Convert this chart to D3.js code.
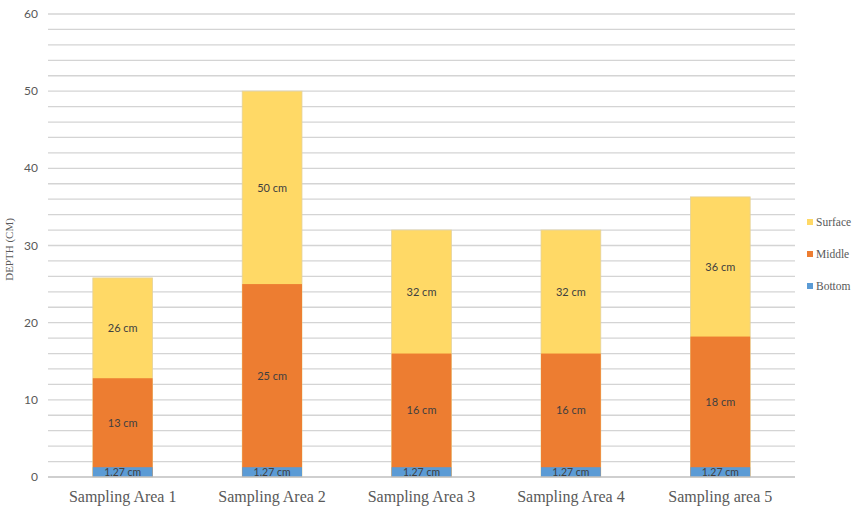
<!DOCTYPE html>
<html lang="en">
<head>
  <meta charset="UTF-8">
  <title>Depth</title>
  <script src="https://d3js.org/d3.v7.min.js"></script>
  <style>
    body { margin: 0; background: #fff; }
  </style>
</head>
<body>
<svg></svg>
<script>
  // data
  const areas = ['Sampling Area 1', 'Sampling Area 2', 'Sampling Area 3', 'Sampling Area 4', 'Sampling area 5']
  const surface = [25.8, 50, 32, 32, 36.3]
  const middle = [12.8, 25, 16, 16, 18.2]
  const bottom = [1.27, 1.27, 1.27, 1.27, 1.27]
  const surfaceLabels = ['26 cm', '50 cm', '32 cm', '32 cm', '36 cm']
  const middleLabels = ['13 cm', '25 cm', '16 cm', '16 cm', '18 cm']
  const bottomLabels = ['1.27 cm', '1.27 cm', '1.27 cm', '1.27 cm', '1.27 cm']
  const yTicks = [0, 10, 20, 30, 40, 50, 60]

  const width = 858, height = 509
  const plotLeft = 48, plotRight = 795, plotTop = 14, plotBottom = 477

  const svg = d3.select('svg').attr('width', width).attr('height', height)

  const x = d3.scaleBand().domain(areas).range([plotLeft, plotRight]).paddingInner(0.6).paddingOuter(0.3)
  const y = d3.scaleLinear().domain([0, 60]).range([plotBottom, plotTop])

  // grid every 2
  svg.append('g')
    .selectAll('line')
    .data(d3.range(2, 62, 2))
    .join('line')
    .attr('x1', plotLeft).attr('x2', plotRight)
    .attr('y1', d => y(d)).attr('y2', d => y(d))
    .attr('stroke', '#d4d4d4')
    .attr('stroke-width', 1.3)

  // y tick labels
  svg.append('g')
    .selectAll('text')
    .data(yTicks)
    .join('text')
    .attr('x', 38)
    .attr('y', d => y(d) + 4)
    .attr('text-anchor', 'end')
    .attr('fill', '#595959')
    .style('font', '12px Lato, sans-serif')
    .text(d => d)

  svg.append('text')
    .attr('transform', `translate(13, ${(plotTop + plotBottom) / 2 + 4}) rotate(-90)`)
    .attr('text-anchor', 'middle')
    .attr('fill', '#595959')
    .style('font', '11px "Liberation Serif", serif')
    .text('DEPTH (CM)')

  const series = [
    { name: 'Surface', vals: surface, lower: middle, labels: surfaceLabels, color: '#FFD966' },
    { name: 'Middle', vals: middle, lower: bottom, labels: middleLabels, color: '#ED7D31' },
    { name: 'Bottom', vals: bottom, lower: areas.map(() => 0), labels: bottomLabels, color: '#5B9BD5' }
  ]

  const bars = svg.append('g')
  series.forEach(s => {
    bars.append('g')
      .selectAll('rect')
      .data(areas)
      .join('rect')
      .attr('x', d => x(d))
      .attr('width', x.bandwidth())
      .attr('y', (d, i) => y(s.vals[i]))
      .attr('height', (d, i) => y(0) - y(s.vals[i]))
      .attr('fill', s.color)
      .attr('stroke', s.name === 'Surface' ? '#e5d29a' : 'none')
      .attr('stroke-width', 0.8)
  })

  // axis line
  svg.append('line')
    .attr('x1', plotLeft).attr('x2', plotRight)
    .attr('y1', y(0)).attr('y2', y(0))
    .attr('stroke', '#bfbfbf').attr('stroke-width', 1.5)

  // data labels
  series.forEach(s => {
    svg.append('g')
      .selectAll('text')
      .data(areas)
      .join('text')
      .attr('x', d => x(d) + x.bandwidth() / 2)
      .attr('y', (d, i) => y((s.vals[i] + s.lower[i]) / 2) + 4)
      .attr('text-anchor', 'middle')
      .attr('fill', '#404040')
      .style('font', (s.name === 'Bottom' ? '10.5px' : '11px') + ' Lato, sans-serif')
      .text((d, i) => s.labels[i])
  })

  // x labels
  svg.append('g')
    .selectAll('text')
    .data(areas)
    .join('text')
    .attr('x', d => x(d) + x.bandwidth() / 2)
    .attr('y', 502)
    .attr('text-anchor', 'middle')
    .attr('fill', '#595959')
    .style('font', '16px "Liberation Serif", serif')
    .text(d => d)

  // legend
  const legend = svg.append('g')
    .selectAll('g')
    .data(series)
    .join('g')
    .attr('transform', (d, i) => `translate(807, ${226 + i * 32})`)
  legend.append('rect')
    .attr('x', 0).attr('y', -7).attr('width', 6).attr('height', 6)
    .attr('fill', d => d.color)
  legend.append('text')
    .attr('x', 9).attr('y', 0)
    .attr('fill', '#595959')
    .style('font', '11.5px "Liberation Serif", serif')
    .text(d => d.name)
</script>
</body>
</html>
